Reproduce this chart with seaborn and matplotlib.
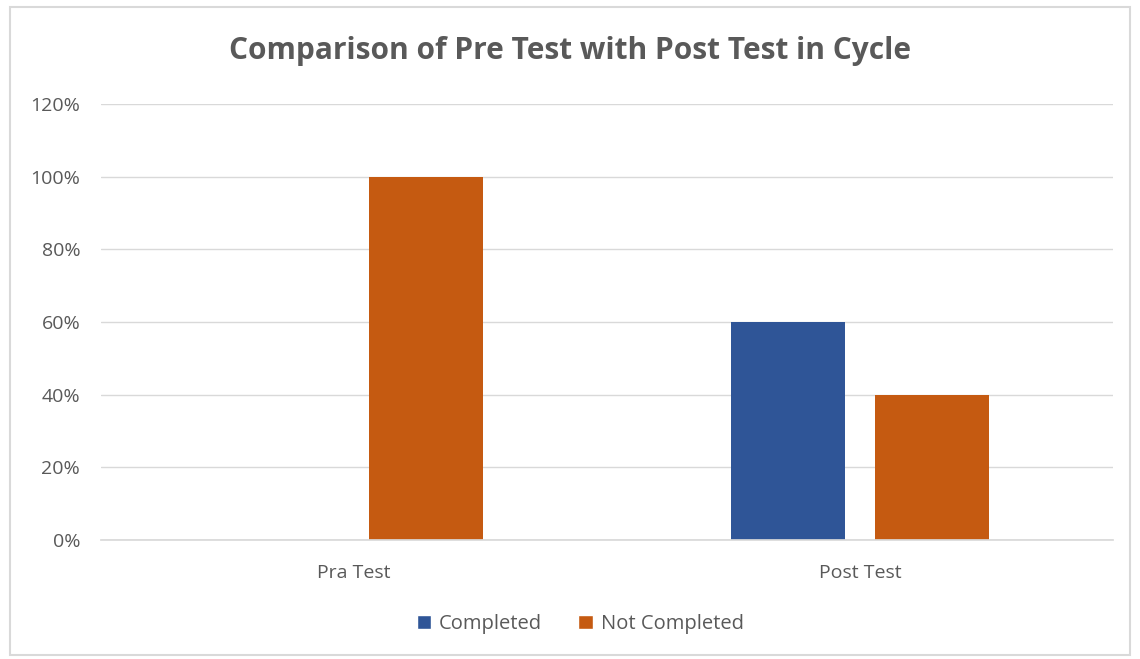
import matplotlib
matplotlib.use("Agg")
import matplotlib.pyplot as plt
from matplotlib.patches import Patch
from matplotlib.ticker import PercentFormatter
import pandas as pd
import seaborn as sns

# values
tests = ["Pra Test", "Post Test"]
statuses = ["Completed", "Not Completed"]
completed = [0.0, 0.60]
not_completed = [1.00, 0.40]
colors = ["#2F5597", "#C55A11"]

df = pd.DataFrame({
    "test": tests * 2,
    "status": [statuses[0]] * len(tests) + [statuses[1]] * len(tests),
    "share": completed + not_completed,
})

sns.set_theme(style="white")
plt.rcParams["font.family"] = ["Open Sans", "DejaVu Sans"]

fig = plt.figure(figsize=(11.4, 6.59), dpi=100)
ax = fig.add_axes([0.0886, 0.1806, 0.8876, 0.6614])

sns.barplot(
    data=df, x="test", y="share", hue="status", order=tests, hue_order=statuses,
    palette=colors, width=0.569, gap=0.209, ax=ax, legend=False, saturation=1,
    linewidth=0,
)

ax.set_ylim(0, 1.2)
ax.set_yticks([0, 0.2, 0.4, 0.6, 0.8, 1.0, 1.2])
ax.yaxis.set_major_formatter(PercentFormatter(1.0, decimals=0))
ax.grid(axis="y", color="#D9D9D9", linewidth=1)
ax.set_axisbelow(True)
ax.set_xlabel("")
ax.set_ylabel("")
for side in ["left", "right", "top"]:
    ax.spines[side].set_visible(False)
ax.spines["bottom"].set_color("#D9D9D9")
ax.tick_params(axis="both", length=0, labelsize=14, labelcolor="#595959")
ax.tick_params(axis="y", pad=15)
ax.tick_params(axis="x", pad=17)

fig.text(0.5, 0.922, "Comparison of Pre Test with Post Test in Cycle",
         ha="center", va="center", fontsize=21.5, fontweight="bold", color="#595959")

handles = [Patch(facecolor=c, label=s) for c, s in zip(colors, statuses)]
fig.legend(handles=handles, loc="center", bbox_to_anchor=(0.509, 0.053), ncol=2,
           frameon=False, fontsize=14.5, labelcolor="#595959", handlelength=0.7,
           handleheight=0.7, handletextpad=0.4, columnspacing=1.8)

# light frame around the chart area
fig.patches.append(plt.Rectangle((0.009, 0.006), 0.982, 0.984, transform=fig.transFigure,
                                 fill=False, edgecolor="#D9D9D9", linewidth=1.5))

fig.savefig("out.png", dpi=100)
